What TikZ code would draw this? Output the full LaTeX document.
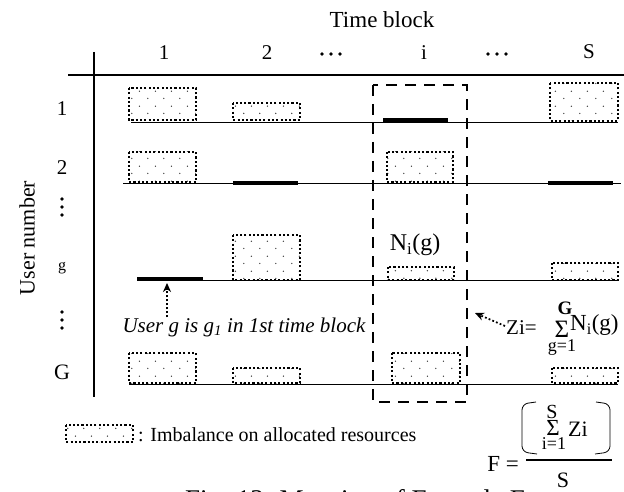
\documentclass[tikz,border=0pt]{standalone}
\usepackage{fontspec}
\setmainfont{Liberation Serif}
\usetikzlibrary{patterns.meta,arrows.meta}
\tikzdeclarepattern{
  name=sparsedots,
  type=uncolored,
  bottom left={(0pt,0pt)},
  top right={(16pt,15pt)},
  tile size={(16pt,15pt)},
  code={
    \fill (4pt,3.75pt) circle (0.75pt);
    \fill (12pt,11.25pt) circle (0.75pt);
  }
}
\begin{document}
\begin{tikzpicture}[x=1pt,y=-1pt,
  lbl/.style={font=\fontsize{21}{25}\selectfont, inner sep=0pt},
  small/.style={font=\fontsize{18}{21}\selectfont, inner sep=0pt},
  imb/.style={draw, line width=2.1pt, dash pattern=on 2.1pt off 2.2pt, pattern=sparsedots, pattern color=black!75},
  bar/.style={line width=3.6pt},
  rowline/.style={line width=0.9pt},
  axis/.style={line width=1.4pt},
  dashbox/.style={line width=2.3pt, dash pattern=on 11pt off 8pt},
  dotarr/.style={line width=1.8pt, dash pattern=on 1.8pt off 2.2pt, -{Stealth[length=9pt,width=8pt]}},
  bigsum/.style={inner sep=0pt, font=\fontsize{25}{28}\selectfont},
]
\useasboundingbox (0,0) rectangle (624,492);

% titles
\node[lbl, font=\fontsize{23}{27}\selectfont] (tb) at (382,20) {Time block};
\node[lbl, font=\fontsize{22}{26}\selectfont, rotate=90] (un) at (27,238) {User number};

% column labels
\node[lbl] (c1) at (164,53) {1};
\node[lbl] (c2) at (267,53) {2};
\node[lbl] (ci) at (424,53) {i};
\node[lbl] (cS) at (589,52) {S};
\foreach \x in {322,331,340, 488,497,506} \fill (\x,54) circle (1.9pt);

% row labels
\node[lbl] (r1) at (62,109) {1};
\node[lbl] (r2) at (62,168) {2};
\node[small, font=\fontsize{16}{19}\selectfont] (rg) at (62,268) {g};
\node[lbl, font=\fontsize{22}{26}\selectfont] (rG) at (62,372) {G};
\foreach \y in {199,207,215, 312,320,328} \fill (62,\y) circle (1.9pt);

% axes
\draw[axis] (68,75) -- (624,75);
\draw[axis] (94,52) -- (94,397);

% row lines
\draw[rowline] (131,122) -- (618,122);
\draw[rowline] (123,183) -- (621,183);
\draw[rowline] (137,280) -- (618,280);
\draw[rowline] (129,384) -- (618,384);

% row 1
\draw[imb] (129,88) rectangle (196,120);
\draw[imb] (233,103) rectangle (300,120);
\draw[bar] (383,120) -- (448,120);
\draw[imb] (550,83) rectangle (618,121);
% row 2
\draw[imb] (129,152) rectangle (196,182);
\draw[bar] (233,183) -- (298,183);
\draw[imb] (387,152) rectangle (453,182);
\draw[bar] (548,183) -- (613,183);
% row g
\draw[bar] (137,279) -- (203,279);
\draw[imb] (233,235) rectangle (300,280);
\draw[imb] (388,267) rectangle (454,280);
\draw[imb] (552,263) rectangle (618,280);
% row G
\draw[imb] (129,353) rectangle (196,383);
\draw[imb] (233,368) rectangle (300,383);
\draw[imb] (392,353) rectangle (460,383);
\draw[imb] (552,368) rectangle (618,383);

% dashed column box
\draw[dashbox] (373,85) rectangle (467,402);

% N_i(g)
\node[lbl, font=\fontsize{24}{28}\selectfont] (nig) at (415,245) {N\textsubscript{i}(g)};

% user g annotation
\node[lbl, font=\fontsize{21}{25}\selectfont\itshape] (ug) at (244,327) {User g is g\textsubscript{1} in 1st time block};
\coordinate (gbar) at (167,283);
\draw[dotarr] (ug.north -| gbar) -- (gbar);

% Zi formula
\node[lbl, anchor=west] (zi) at (506,328) {Zi=};
\node[bigsum] (sig) at (562,329) {Σ};
\node[small, font=\fontsize{19}{22}\selectfont\bfseries] (sigG) at (565,308) {G};
\node[small] (sigg) at (562,347) {g=1};
\node[lbl, font=\fontsize{23}{27}\selectfont, anchor=west] (sumN) at (570,325) {N\textsubscript{i}(g)};
\coordinate (ziend) at (475,313);
\draw[dotarr] (zi.west) ++(-1,-2) -- (ziend);

% legend
\draw[imb] (66,425) rectangle (133,442);
\node[lbl, font=\fontsize{20}{24}\selectfont, anchor=west] (leg) at (138,435) {: Imbalance on allocated resources};

% F formula
\node[lbl, font=\fontsize{23}{27}\selectfont, anchor=east] (Feq) at (519,464) {F =};
\draw[line width=1.1pt] (526,460) -- (612,460);
\node[small, font=\fontsize{20}{24}\selectfont] (nS) at (552,412) {S};
\node[bigsum, font=\fontsize{23}{26}\selectfont] (nsig) at (553,428) {Σ};
\node[small] (ni1) at (554,444) {i=1};
\node[lbl, font=\fontsize{22}{26}\selectfont] (nZi) at (578,429) {Zi};
\draw[line width=0.8pt, rounded corners=6pt] (536,402) -- (522,404) -- (522,452) -- (537,454);
\draw[line width=0.8pt, rounded corners=6pt] (596,402) -- (610,404) -- (610,452) -- (595,454);
\node[lbl, font=\fontsize{22}{26}\selectfont] (dS) at (563,480) {S};

% caption (cut by the page edge)
\node[font=\fontsize{27}{32}\selectfont, inner sep=0pt, anchor=base west] (cap) at (185,508) {Fig. 13. Meaning of Formula F};
\end{tikzpicture}
\end{document}
